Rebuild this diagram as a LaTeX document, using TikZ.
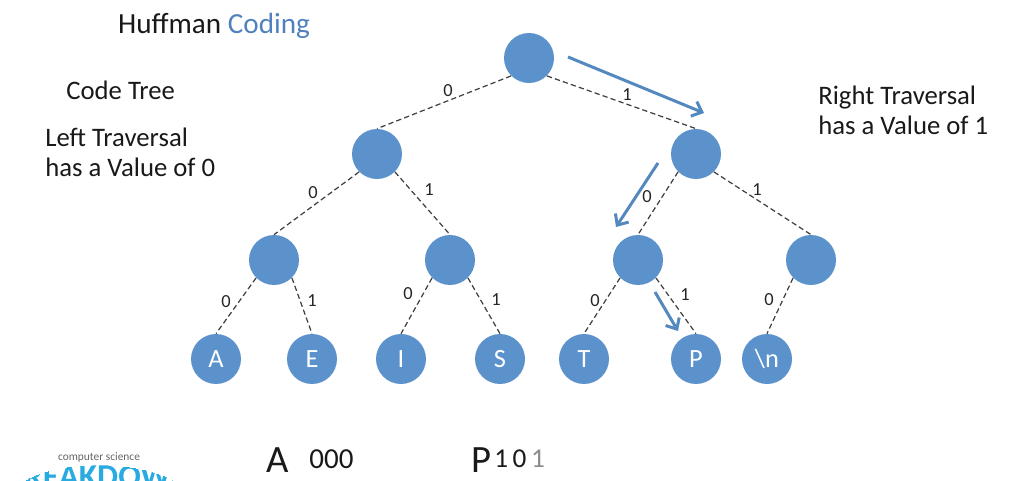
\documentclass[tikz,border=0pt]{standalone}
\usepackage{fontspec}
\setmainfont{Carlito}
\usetikzlibrary{arrows.meta}
\definecolor{nodeblue}{RGB}{91,146,204}
\definecolor{titleblue}{RGB}{79,129,189}
\definecolor{walkblue}{RGB}{84,137,191}
\definecolor{logoblue}{RGB}{41,171,226}
\tikzstyle{vertex}=[circle,fill=nodeblue,minimum size=1cm,inner sep=0pt,text=white,font=\fontsize{15}{17}\selectfont]
\tikzstyle{edge} = [draw,dash pattern=on 3pt off 1.8pt,black!75,line width=0.7pt]
\tikzstyle{weight} = [font=\fontsize{10.5}{12}\selectfont,text=black!85,inner sep=1pt]
\tikzstyle{walk arrow} = [draw,line width=1.7pt,-{Straight Barb[length=5pt,width=9pt]},walkblue]
\tikzstyle{caption} = [font=\fontsize{15.2}{17}\selectfont,align=left,text=black!90,inner sep=0pt]

\begin{document}
\begin{tikzpicture}[x=0.02cm,y=-0.02cm]
    \useasboundingbox (0,0) rectangle (1017,480);

     \foreach \pos/\name/\text in {{(529,58)/root/}, {(377,154)/l/}, {(696,154)/r/},
        {(274,260)/ll/}, {(450,260)/lr/}, {(638,260)/rl/}, {(811,260)/rr/},
        {(216,359)/a/A}, {(312,359)/e/E}, {(401,359)/i/I}, {(500,359)/s/S},
        {(584,359)/t/T}, {(696,359)/p/P}, {(767,359)/n/{\textbackslash n}}}
     \node[vertex] (\name) at \pos {\text};

     % Connect vertices with edges and draw weights
     \foreach \source/ \dest in {root/l, l/ll, ll/a, lr/i, r/rl, rl/t, rr/n}
     \path[edge] (\source.225) -- (\dest.north);

     \foreach \source/ \dest in {root/r, l/lr, ll/e, lr/s, r/rr, rl/p}
     \path[edge] (\source.315) -- (\dest.north);

     \foreach \pos/\name/\bit in {{(448,91)/wa/0}, {(627,95)/wb/1}, {(313,193)/wc/0}, {(429,190)/wd/1},
        {(647,197)/we/0}, {(757,190)/wf/1}, {(226,302)/wg/0}, {(312,301)/wh/1}, {(408,294)/wi/0},
        {(496,300)/wj/1}, {(595,301)/wk/0}, {(685,295)/wl/1}, {(769,300)/wm/0}}
     \node[weight] (\name) at \pos {\bit};

     \coordinate (walk1a) at (568,57);
     \coordinate (walk1b) at (704,113);
     \coordinate (walk2a) at (658,163);
     \coordinate (walk2b) at (616,227);
     \coordinate (walk3a) at (655,292);
     \coordinate (walk3b) at (678,331);
     \foreach \source/ \dest in {walk1a/walk1b, walk2a/walk2b, walk3a/walk3b}
     \path[walk arrow] (\source) -- (\dest);

     \node[caption,font=\fontsize{16.6}{20}\selectfont] (title) at (214,26) {Huffman \textcolor{titleblue}{Coding}};
     \node[caption,anchor=west] (codetree) at (66,90) {Code Tree};
     \node[caption,anchor=west,align=left] (lefttext) at (45,152) {Left Traversal\\has a Value of 0};
     \node[caption,anchor=west,align=left] (righttext) at (818,110) {Right Traversal\\has a Value of 1};

     \node[caption,anchor=west,font=\fontsize{22}{24}\selectfont] (codea) at (266,460) {A};
     \node[caption,anchor=west,font=\fontsize{16.5}{18}\selectfont] (bitsa) at (309,459) {000};
     \node[caption,anchor=west,font=\fontsize{22}{24}\selectfont] (codep) at (471,460) {P};
     \node[caption,anchor=west,font=\fontsize{15.5}{18}\selectfont] (bitsp) at (494,459) {1\,0\,\textcolor{black!45}{1}};

     \node[font=\fontsize{6.5}{8}\selectfont,text=black!60,inner sep=0pt] (logotop) at (99,457) {computer science};
     \begin{scope}
     \clip (26,480) .. controls (60,460) and (135,460) .. (172,480) -- cycle;
     \node[font=\fontsize{19}{22}\bfseries\selectfont,text=logoblue,inner sep=0pt,anchor=north] (logo) at (99,465) {BREAKDOWN};
     \end{scope}
\end{tikzpicture}
\end{document}
